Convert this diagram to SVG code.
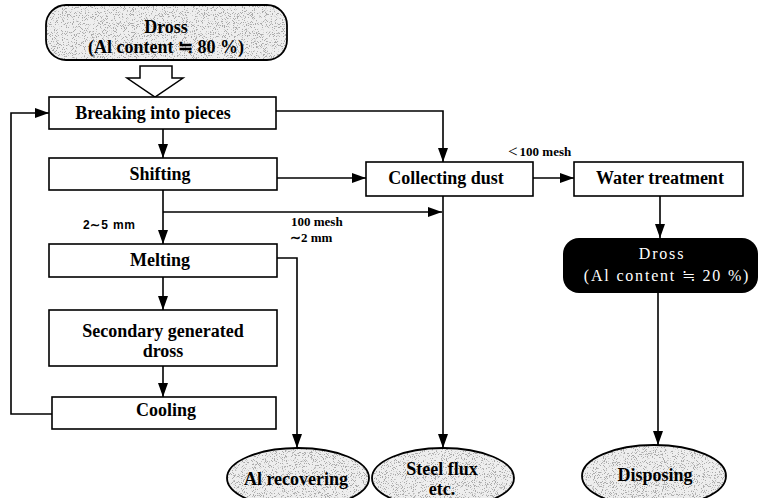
<svg xmlns="http://www.w3.org/2000/svg" width="760" height="498" viewBox="0 0 760 498">
<defs>
<marker id="ah" markerWidth="14" markerHeight="10" refX="14" refY="5" orient="auto" markerUnits="userSpaceOnUse">
<path d="M0,0 L14,5 L0,10 Z" fill="#000"/>
</marker>
<filter id="speck" x="0" y="0" width="100%" height="100%">
<feTurbulence type="fractalNoise" baseFrequency="1.1" numOctaves="2" seed="3" result="n"/>
<feColorMatrix in="n" type="matrix" values="0 0 0 0 0.4  0 0 0 0 0.4  0 0 0 0 0.4  0 0 0 -12 5.1" result="d"/>
<feComposite in="d" in2="SourceGraphic" operator="in"/>
</filter>
</defs>
<style>
.box{fill:#fff;stroke:#000;stroke-width:1.6}
.t{font-family:"Liberation Serif","Times New Roman",serif;font-weight:bold;font-size:18px;fill:#000;text-anchor:middle;dominant-baseline:central}
.s{font-family:"Liberation Serif","Times New Roman",serif;font-weight:bold;font-size:13px;fill:#000;dominant-baseline:central}
.ss{font-family:"Liberation Sans",Arial,sans-serif;font-weight:bold;font-size:12px;fill:#000;dominant-baseline:central;letter-spacing:0.8px}
.w{font-family:"Liberation Serif","Times New Roman",serif;font-size:16px;fill:#fff;text-anchor:middle;dominant-baseline:central;letter-spacing:1.8px}
.c{fill:none;stroke:#000;stroke-width:1.6}
.g{fill:#eeeeee}
.o{fill:none;stroke:#000;stroke-width:1.8}
</style>
<rect width="760" height="498" fill="#fff"/>

<g id="dross-top">
<rect class="g" x="46" y="5" width="241" height="55" rx="20"/>
<rect x="46" y="5" width="241" height="55" rx="20" fill="#fff" filter="url(#speck)"/>
<rect class="o" x="46" y="5" width="241" height="55" rx="20"/>
<text class="t" x="166" y="27">Dross</text>
<text class="t" x="166" y="47">(Al content ≒ 80 %)</text>
</g>

<g id="hollow-arrow">
<polygon points="140,66 172,66 172,78 183,78 155,97 127,78 140,78" fill="#fff" stroke="#000" stroke-width="1.5"/>
</g>

<g id="breaking">
<rect class="box" x="49" y="97" width="227" height="32"/>
<text class="t" x="153" y="113">Breaking into pieces</text>
</g>
<g id="shifting">
<rect class="box" x="49" y="158" width="228" height="32"/>
<text class="t" x="160" y="174">Shifting</text>
</g>
<g id="melting">
<rect class="box" x="49" y="244" width="228" height="33"/>
<text class="t" x="160" y="260">Melting</text>
</g>
<g id="secondary">
<rect class="box" x="49" y="310" width="228" height="56"/>
<text class="t" x="163" y="331">Secondary generated</text>
<text class="t" x="163" y="351">dross</text>
</g>
<g id="cooling">
<rect class="box" x="52" y="397" width="224" height="32"/>
<text class="t" x="166" y="410">Cooling</text>
</g>
<g id="collecting">
<rect class="box" x="366" y="162" width="167" height="34"/>
<text class="t" x="446" y="178">Collecting dust</text>
</g>
<g id="water">
<rect class="box" x="574" y="162" width="169" height="34"/>
<text class="t" x="660" y="178">Water treatment</text>
</g>
<g id="dross-black">
<rect x="563" y="238" width="195" height="55" rx="16" fill="#000"/>
<text class="w" x="662" y="253">Dross</text>
<text class="w" x="667" y="275">(Al content ≒ 20 %)</text>
</g>

<g id="al-recovering">
<ellipse class="g" cx="298" cy="478" rx="71" ry="30"/>
<ellipse cx="298" cy="478" rx="71" ry="30" fill="#fff" filter="url(#speck)"/>
<ellipse class="o" cx="298" cy="478" rx="71" ry="30"/>
<text class="t" x="296" y="479">Al recovering</text>
</g>
<g id="steel-flux">
<ellipse class="g" cx="443" cy="478" rx="71" ry="30"/>
<ellipse cx="443" cy="478" rx="71" ry="30" fill="#fff" filter="url(#speck)"/>
<ellipse class="o" cx="443" cy="478" rx="71" ry="30"/>
<text class="t" x="442" y="469">Steel flux</text>
<text class="t" x="442" y="489">etc.</text>
</g>
<g id="disposing">
<ellipse class="g" cx="654" cy="476" rx="72" ry="31"/>
<ellipse cx="654" cy="476" rx="72" ry="31" fill="#fff" filter="url(#speck)"/>
<ellipse class="o" cx="654" cy="476" rx="72" ry="31"/>
<text class="t" x="655" y="475">Disposing</text>
</g>

<g id="connectors">
<path class="c" d="M276,111 H443 V162" marker-end="url(#ah)"/>
<path class="c" d="M277,178 H366" marker-end="url(#ah)"/>
<path class="c" d="M533,178 H574" marker-end="url(#ah)"/>
<path class="c" d="M660,196 V238" marker-end="url(#ah)"/>
<path class="c" d="M163,129 V158" marker-end="url(#ah)"/>
<path class="c" d="M163,190 V244" marker-end="url(#ah)"/>
<path class="c" d="M163,212 H442" marker-end="url(#ah)"/>
<path class="c" d="M443,196 V448" marker-end="url(#ah)"/>
<path class="c" d="M277,258 H297 V448" marker-end="url(#ah)"/>
<path class="c" d="M163,277 V310" marker-end="url(#ah)"/>
<path class="c" d="M163,366 V397" marker-end="url(#ah)"/>
<path class="c" d="M52,414 H11 V113 H49" marker-end="url(#ah)"/>
<path class="c" d="M658,293 V445" marker-end="url(#ah)"/>
</g>

<g id="labels">
<text class="s" x="508" y="151"><tspan font-size="17" font-weight="normal">&lt;</tspan><tspan dx="2">100 mesh</tspan></text>
<text class="ss" x="83" y="225">2∼5 mm</text>
<text class="s" x="291" y="221">100 mesh</text>
<text class="s" x="290" y="237">∼2 mm</text>
</g>
</svg>
